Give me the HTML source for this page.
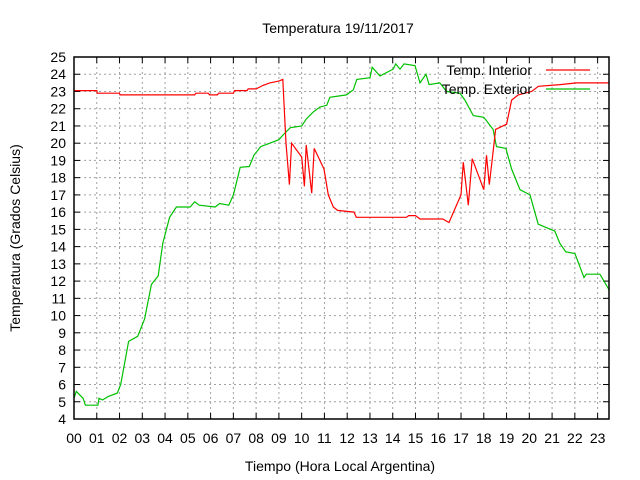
<!DOCTYPE html>
<html><head><meta charset="utf-8"><style>
body{margin:0;background:#fff}
svg{display:block;font-family:"Liberation Sans",sans-serif}
</style></head><body>
<svg id="c" width="640" height="480"></svg>
<script>
const interiorHours=[0,1.0,1.02,2.0,2.02,5.3,5.35,5.9,5.95,6.3,6.35,7.0,7.05,7.6,7.65,8.0,8.3,8.6,9.0,9.17,9.31,9.46,9.56,10.0,10.12,10.2,10.44,10.55,10.98,11.17,11.39,11.58,12.3,12.4,14.6,14.7,15.0,15.2,16.2,16.47,17.0,17.1,17.32,17.49,18.0,18.12,18.24,18.41,18.52,19.0,19.22,19.51,20.1,20.4,21.35,22.07,23.5];
const interiorTemps=[23.05,23.05,22.9,22.9,22.8,22.8,22.9,22.9,22.8,22.8,22.9,22.9,23.05,23.05,23.15,23.15,23.35,23.5,23.6,23.7,20.0,17.6,20.0,19.2,17.5,19.9,17.1,19.7,18.5,17.0,16.3,16.1,16.0,15.7,15.7,15.8,15.8,15.6,15.6,15.4,17.0,18.9,16.4,19.1,17.3,19.3,17.6,19.5,20.8,21.1,22.5,22.8,23.0,23.3,23.4,23.5,23.5];
const exteriorHours=[0,0.1,0.4,0.5,1.05,1.1,1.25,1.5,1.9,2.05,2.4,2.8,3.1,3.4,3.7,3.9,4.2,4.5,5.1,5.3,5.5,6.2,6.4,6.8,7.0,7.3,7.7,7.9,8.2,8.6,9.0,9.2,9.5,10.0,10.2,10.5,10.8,11.1,11.24,11.97,12.27,12.42,13.0,13.1,13.44,14.02,14.13,14.32,14.5,14.98,15.2,15.46,15.6,16.07,16.37,16.95,17.17,17.54,18.0,18.41,18.56,18.97,19.22,19.59,20.03,20.39,20.76,21.12,21.34,21.6,22.0,22.4,22.5,23.1,23.5];
const exteriorTemps=[5.2,5.6,5.2,4.8,4.8,5.2,5.1,5.3,5.5,6.0,8.5,8.8,9.8,11.8,12.3,14.2,15.7,16.3,16.3,16.6,16.4,16.3,16.5,16.4,17.0,18.6,18.65,19.3,19.8,20.0,20.2,20.5,20.9,21.0,21.4,21.8,22.1,22.2,22.66,22.8,23.1,23.7,23.8,24.4,23.9,24.3,24.6,24.3,24.6,24.5,23.5,24.0,23.4,23.5,23.0,22.9,22.5,21.6,21.5,20.8,19.8,19.7,18.5,17.3,17.0,15.3,15.1,14.9,14.2,13.7,13.6,12.2,12.4,12.4,11.5];
const yTicks=[4,5,6,7,8,9,10,11,12,13,14,15,16,17,18,19,20,21,22,23,24,25];
const xTickLabels=["00","01","02","03","04","05","06","07","08","09","10","11","12","13","14","15","16","17","18","19","20","21","22","23"];
const L=74,R=609,T=57,B=419,xMax=23.5,yMin=4,yMax=25;
const X=h=>L+(h/xMax)*(R-L);
const Y=t=>B-(t-yMin)/(yMax-yMin)*(B-T);
const svg=document.getElementById('c');const NS='http://www.w3.org/2000/svg';
function mk(tag,attrs,parent){const e=document.createElementNS(NS,tag);for(const k in attrs)e.setAttribute(k,attrs[k]);(parent||svg).appendChild(e);return e;}
const grid=mk('g',{});


yTicks.forEach((t,i)=>{
  if(i>0&&i<yTicks.length-1)mk('line',{x1:L,x2:R,y1:Y(t),y2:Y(t),stroke:'#a0a0a0','stroke-dasharray':'2,3','stroke-width':1},grid);
  mk('line',{x1:L,x2:L+6,y1:Y(t),y2:Y(t),stroke:'#000'},grid);
  mk('line',{x1:R,x2:R-6,y1:Y(t),y2:Y(t),stroke:'#000'},grid);
  const tx=mk('text',{x:L-8,y:Y(t)+5,'text-anchor':'end','font-size':14,fill:'#000'});
  
  
  tx.textContent=t;
});
xTickLabels.forEach((lab,i)=>{
  const x=X(i);
  if(i>0)mk('line',{x1:x,x2:x,y1:T,y2:B,stroke:'#a0a0a0','stroke-dasharray':'2,3','stroke-width':1},grid);
  mk('line',{x1:x,x2:x,y1:B,y2:B-6,stroke:'#000'},grid);
  mk('line',{x1:x,x2:x,y1:T,y2:T+6,stroke:'#000'},grid);
  const tx=mk('text',{x:x,y:443,'text-anchor':'middle','font-size':14,fill:'#000'});
  
  
  tx.textContent=lab;
});
function series(hs,ts,color,name){
  const p=mk('polyline',{points:hs.map((h,i)=>X(h).toFixed(1)+','+Y(ts[i]).toFixed(1)).join(' '),fill:'none',stroke:color,'stroke-width':1.2});
  
  
}
series(exteriorHours,exteriorTemps,'#00c000','exterior-line');
series(interiorHours,interiorTemps,'#ff0000','interior-line');
const frame=mk('rect',{x:L,y:T,width:R-L,height:B-T,fill:'none',stroke:'#000','stroke-width':1.5});


function txt(x,y,s,name,extra){const e=mk('text',Object.assign({x:x,y:y,'font-size':14,fill:'#000'},extra||{}));e.textContent=s;
  
  return e;}
txt(338,33,'Temperatura 19/11/2017','chart-title',{'text-anchor':'middle'});
txt(340,471,'Tiempo (Hora Local Argentina)','x-axis-title',{'text-anchor':'middle'});
txt(20,238,'Temperatura (Grados Celsius)','y-axis-title',{'text-anchor':'middle',transform:'rotate(-90 20 238)'});
const lg=mk('g',{});


const l1=txt(532,75,'Temp. Interior','legend-interior-label',{'text-anchor':'end'});lg.appendChild(l1);
mk('line',{x1:546,x2:590,y1:70,y2:70,stroke:'#ff0000','stroke-width':1.2},lg);
const l2=txt(532,94,'Temp. Exterior','legend-exterior-label',{'text-anchor':'end'});lg.appendChild(l2);
mk('line',{x1:546,x2:590,y1:89,y2:89,stroke:'#00c000','stroke-width':1.2},lg);
</script>
</body></html>
